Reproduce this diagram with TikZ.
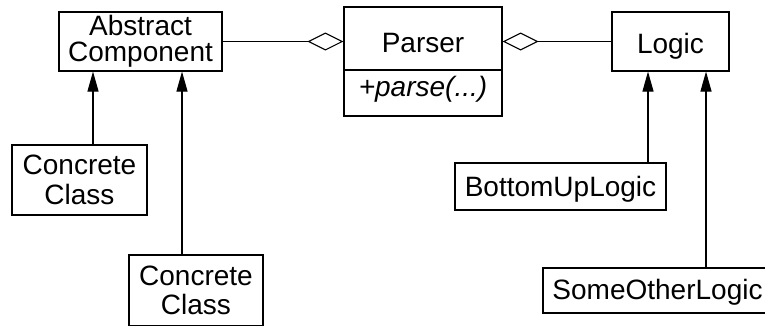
\documentclass[tikz,border=0pt]{standalone}
\usepackage{fontspec}
\setmainfont{Liberation Sans}
\usetikzlibrary{arrows.meta}
\newcommand{\umlfont}{\fontsize{28}{26}\selectfont}
\newcommand{\umlwidefont}{\fontsize{28}{29.5}\selectfont}
\begin{document}
\begin{tikzpicture}[x=1pt, y=-1pt,
          umlclass/.style={draw, line width=1.1pt, inner sep=0pt, font=\umlfont, align=center},
          aggregation/.style={line width=1.1pt, -{Diamond[open, length=36pt, width=18pt]}},
          inherits/.style={line width=1.1pt, -{Triangle[length=20pt, width=11pt]}}]
          \useasboundingbox (0,0) rectangle (765,325);
          % classes
          \node[umlclass, minimum width=163, minimum height=59] (abstract) at (140.5,41.5) {Abstract\\Component};
          \node[umlclass, minimum width=158, minimum height=63, text height=27pt, text depth=0pt] (parser) at (423,38.5) {Parser};
          \node[umlclass, minimum width=158, minimum height=46, text height=14pt, text depth=7pt, font=\umlfont\itshape] (parserops) at (423,93) {+parse(...)};
          \node[umlclass, minimum width=117, minimum height=59, text height=24pt, text depth=0pt] (logic) at (670.5,41.5) {Logic};
          \node[umlclass, minimum width=135, minimum height=70, font=\umlwidefont] (concrete1) at (79.5,180) {Concrete\\Class};
          \node[umlclass, minimum width=134, minimum height=71, font=\umlwidefont] (concrete2) at (196,290.5) {Concrete\\Class};
          \node[umlclass, minimum width=211, minimum height=47, text height=20pt, text depth=0pt] (bottomup) at (560.5,186.5) {BottomUpLogic};
          \node[umlclass, minimum width=229, minimum height=45, text height=18pt, text depth=0pt] (someother) at (657.5,290.5) {SomeOtherLogic};
          % aggregations
          \draw[aggregation] (abstract.east) -- (abstract.east -| parser.west);
          \draw[aggregation] (logic.west) -- (logic.west -| parser.east);
          % generalizations
          \draw[inherits] ([xshift=13.5]concrete1.north) -- ([xshift=13.5]concrete1.north |- abstract.south);
          \draw[inherits] ([xshift=-14]concrete2.north) -- ([xshift=-14]concrete2.north |- abstract.south);
          \draw[inherits] ([xshift=87.5]bottomup.north) -- ([xshift=87.5]bottomup.north |- logic.south);
          \draw[inherits] ([xshift=48.5]someother.north) -- ([xshift=48.5]someother.north |- logic.south);
      \end{tikzpicture}
\end{document}
